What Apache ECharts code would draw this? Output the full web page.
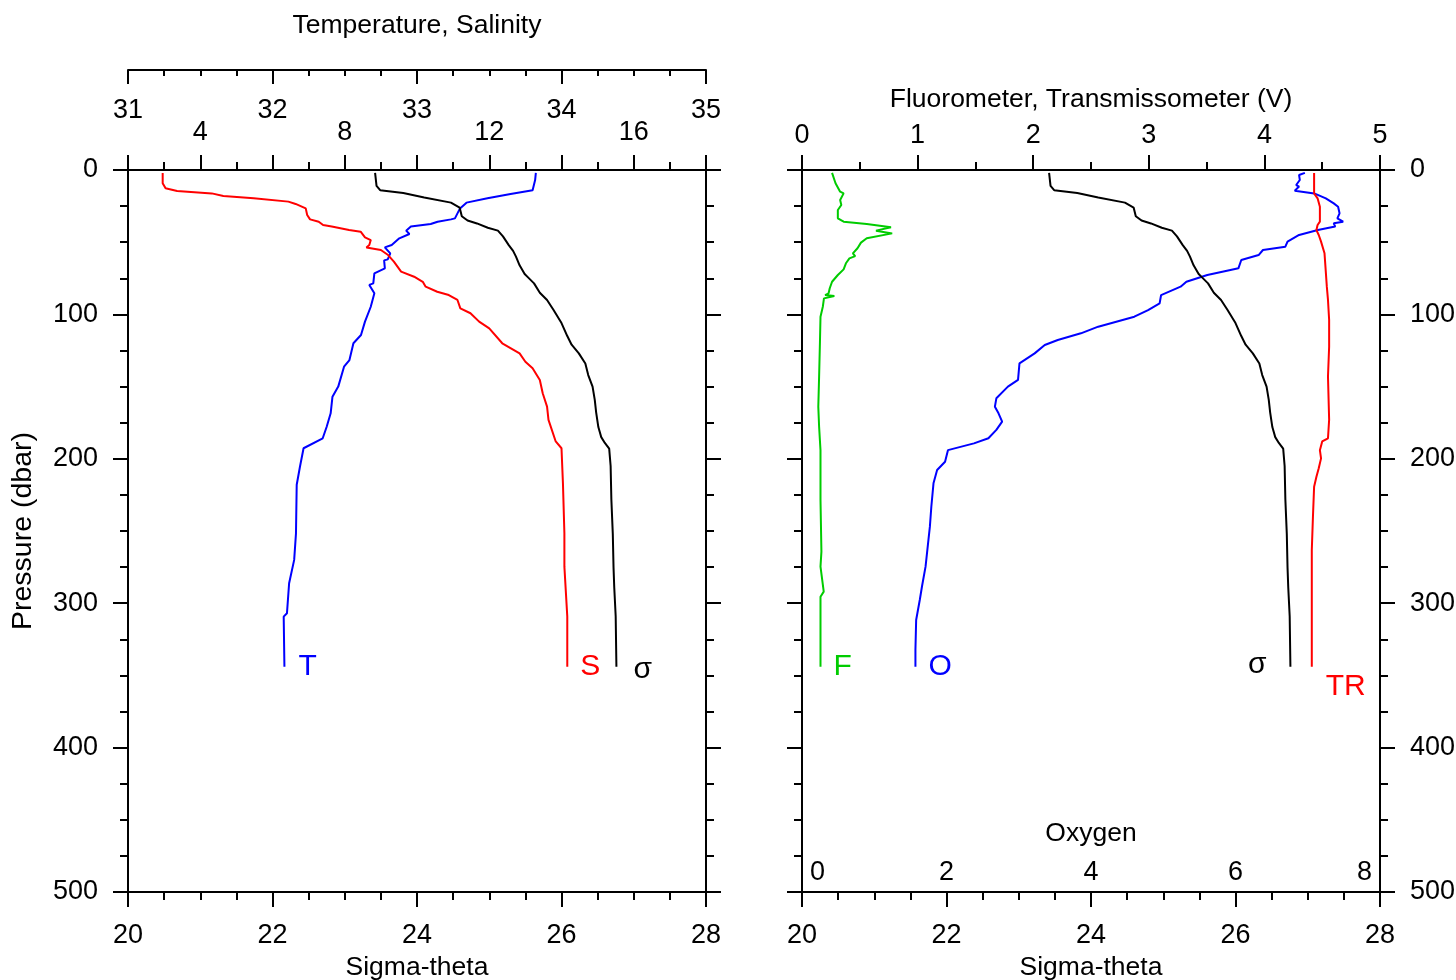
<!DOCTYPE html>
<html>
<head>
    <meta charset="utf-8">
    <title>CTD profiles</title>
    <script src="https://cdn.jsdelivr.net/npm/echarts@6/dist/echarts.min.js"></script>
    <style type="text/css">
        html, body {
            margin: 0;
            height: 100%;
            background: #fff;
        }
    </style>
</head>
<body>
<div id="main" style="width: 1456px;height:980px;"></div>
<script type="text/javascript">
    // profiles: pressure (dbar) and value at that depth
    var sigP = [2, 11, 14, 16, 19, 22.6, 26, 32, 35, 37, 40, 42, 46, 52, 56, 60, 66, 72, 74, 78.5, 85, 90, 97, 106, 115, 121, 127, 134, 142, 150, 159, 168, 178, 185, 189, 193, 205, 228, 252, 275, 289, 309, 344];
    var sigV = [23.42, 23.44, 23.49, 23.81, 24.10, 24.47, 24.59, 24.62, 24.70, 24.83, 24.98, 25.12, 25.19, 25.27, 25.33, 25.37, 25.42, 25.49, 25.53, 25.62, 25.70, 25.80, 25.89, 26.00, 26.08, 26.14, 26.24, 26.33, 26.37, 26.43, 26.46, 26.48, 26.51, 26.55, 26.60, 26.66, 26.68, 26.69, 26.71, 26.72, 26.73, 26.75, 26.76];

    var tempP = [2, 7, 14, 16.6, 19.6, 22.6, 26.6, 33.5, 34.2, 35.8, 37.4, 39.2, 42, 44.3, 47.3, 51.9, 53.6, 57.7, 61.9, 62.6, 68.1, 71.6, 78.5, 79.6, 85.4, 94.7, 105, 114.3, 120, 131.6, 136.2, 150, 157, 168.5, 177.8, 185.8, 192.7, 205.5, 218, 251.6, 270, 286.2, 307, 309.3, 344];
    var tempV = [13.29, 13.27, 13.20, 12.59, 11.95, 11.37, 11.19, 11.05, 10.94, 10.57, 10.38, 9.83, 9.70, 9.79, 9.51, 9.30, 9.11, 9.26, 9.19, 9.09, 9.11, 8.82, 8.79, 8.68, 8.82, 8.72, 8.56, 8.45, 8.24, 8.13, 7.98, 7.82, 7.66, 7.61, 7.50, 7.39, 6.86, 6.76, 6.67, 6.65, 6.60, 6.46, 6.40, 6.31, 6.33];

    var salP = [2, 9.2, 12.7, 14.5, 16.2, 18, 19.6, 21.9, 23.5, 26.6, 31.2, 34.2, 35.8, 38.1, 39.2, 41.6, 42.7, 46.6, 48.5, 51.9, 53.6, 55.4, 58.9, 60, 63.5, 70.4, 73.9, 77.4, 80.8, 84.3, 86.6, 90, 95.8, 99.2, 105, 109.7, 120, 127, 132.8, 137.3, 145.4, 154.6, 163.9, 173, 188, 192.7, 217, 251.6, 274.7, 309.3, 344];
    var salV = [31.24, 31.24, 31.26, 31.34, 31.58, 31.66, 31.87, 32.11, 32.16, 32.23, 32.24, 32.26, 32.32, 32.35, 32.41, 32.53, 32.61, 32.64, 32.68, 32.67, 32.65, 32.75, 32.80, 32.81, 32.84, 32.89, 32.98, 33.04, 33.06, 33.14, 33.22, 33.28, 33.30, 33.37, 33.43, 33.50, 33.59, 33.71, 33.75, 33.80, 33.85, 33.87, 33.90, 33.91, 33.96, 34.00, 34.01, 34.02, 34.02, 34.04, 34.04];

    var fluP = [2, 9.2, 15, 16.2, 20.8, 24.2, 27.7, 33.5, 35.8, 37.4, 39.7, 42, 43.9, 47.3, 50.3, 54.2, 57.7, 59.6, 61.2, 64.6, 68.8, 72.7, 77.4, 81.9, 85.4, 86.6, 87.3, 88.9, 94.7, 101.6, 120, 143, 164, 177.8, 194, 228.5, 264.3, 274.7, 292, 295.5, 320.8, 344];
    var fluV = [0.26, 0.29, 0.33, 0.36, 0.33, 0.34, 0.31, 0.31, 0.36, 0.56, 0.77, 0.64, 0.78, 0.56, 0.51, 0.48, 0.44, 0.46, 0.41, 0.38, 0.36, 0.31, 0.26, 0.24, 0.23, 0.20, 0.28, 0.19, 0.18, 0.16, 0.155, 0.148, 0.141, 0.148, 0.16, 0.16, 0.168, 0.16, 0.188, 0.16, 0.16, 0.16];

    var trP = [2, 16.2, 19.6, 25.4, 35.8, 38.1, 41.6, 45, 49.6, 57.7, 69.2, 80.8, 90, 103.9, 122.4, 143, 173, 185.8, 188, 194, 199.7, 206.6, 212.4, 219.3, 240, 263.2, 286.2, 309.3, 344];
    var trV = [4.43, 4.43, 4.46, 4.48, 4.48, 4.46, 4.45, 4.47, 4.49, 4.52, 4.53, 4.54, 4.55, 4.56, 4.56, 4.55, 4.56, 4.55, 4.50, 4.48, 4.49, 4.47, 4.45, 4.43, 4.42, 4.41, 4.41, 4.41, 4.41];

    var oxyP = [2, 3.5, 6.9, 10.4, 11.5, 14.3, 16.2, 19.6, 23.1, 25.4, 30, 33.5, 35.8, 36.9, 39.2, 41.6, 45, 49.6, 53.1, 55.4, 58.9, 62.3, 68.1, 69.2, 72.7, 77.4, 80.8, 86.6, 92.3, 97, 101.6, 108.5, 113.1, 117.7, 121.2, 127, 133.9, 145.4, 150, 158.1, 163.9, 168.5, 174.3, 180, 185.8, 189.3, 194, 202, 207.8, 217, 233.2, 247, 256.2, 274.7, 288.6, 297.8, 311.6, 332.4, 344];
    var oxyV = [6.96, 6.88, 6.89, 6.84, 6.88, 6.82, 7.09, 7.25, 7.36, 7.42, 7.44, 7.41, 7.49, 7.36, 7.38, 7.14, 6.88, 6.72, 6.69, 6.38, 6.32, 6.08, 6.04, 5.93, 5.61, 5.32, 5.24, 4.97, 4.95, 4.79, 4.60, 4.10, 3.86, 3.54, 3.36, 3.22, 3.01, 2.99, 2.85, 2.69, 2.67, 2.72, 2.77, 2.69, 2.58, 2.38, 2.02, 1.98, 1.87, 1.82, 1.79, 1.77, 1.75, 1.71, 1.66, 1.63, 1.58, 1.57, 1.57];

    var FONT = 'Liberation Sans';
    var LINE = {color: '#000', width: 2};

    var myChart = echarts.init(document.getElementById('main'), null, {renderer: 'canvas'});

    // line through (value, pressure) pairs, with a tag written next to its deepest point
    function profile(xs, ps, xi, yi, color, tag, lab) {
        var d = xs.map(function (v, i) { return [v, ps[i]]; });
        var n = d.length - 1;
        var label = {show: true, formatter: tag, color: color, fontSize: 30, fontFamily: FONT};
        for (var k in lab) label[k] = lab[k];
        d[n] = {value: d[n], symbol: 'circle', symbolSize: 0, label: label};
        return {
            type: 'line', xAxisIndex: xi, yAxisIndex: yi, data: d,
            symbol: 'none', silent: true,
            lineStyle: {color: color, width: 2}, itemStyle: {color: color}
        };
    }

    function axis(o) {
        var a = {
            type: 'value',
            splitLine: {show: false},
            axisLine: {show: true, onZero: false, lineStyle: LINE},
            axisTick: {show: true, length: 15, lineStyle: LINE},
            minorTick: {show: true, length: 8, lineStyle: LINE},
            axisLabel: {color: '#000', fontSize: 27, fontFamily: FONT},
            nameTextStyle: {color: '#000', fontSize: 26.5, fontFamily: FONT},
            nameLocation: 'middle'
        };
        for (var k in o) {
            if (typeof o[k] === 'object' && a[k] && typeof a[k] === 'object') {
                for (var j in o[k]) a[k][j] = o[k][j];
            } else {
                a[k] = o[k];
            }
        }
        return a;
    }

    var option = {
        animation: false,
        backgroundColor: '#fff',
        grid: [
            {left: 128, top: 170, width: 578, height: 722, outerBoundsMode: 'none'},
            {left: 802, top: 170, width: 578, height: 722, outerBoundsMode: 'none'}
        ],
        xAxis: [
            axis({gridIndex: 0, position: 'bottom', min: 20, max: 28, interval: 2,
                minorTick: {splitNumber: 4}, axisLabel: {margin: 30},
                name: 'Sigma-theta', nameGap: 60}),
            axis({gridIndex: 0, position: 'top', min: 2, max: 18, interval: 2,
                minorTick: {splitNumber: 2},
                axisLabel: {margin: 24, formatter: function (v) { return v % 4 === 0 ? v : ''; }}}),
            axis({gridIndex: 0, position: 'top', offset: 100, min: 31, max: 35, interval: 1,
                axisTick: {inside: true, length: 14}, minorTick: {splitNumber: 4, length: 6},
                axisLabel: {inside: true, margin: 27},
                name: 'Temperature, Salinity', nameGap: 31}),
            axis({gridIndex: 1, position: 'bottom', min: 20, max: 28, interval: 2,
                minorTick: {splitNumber: 4}, axisLabel: {margin: 30},
                name: 'Sigma-theta', nameGap: 60}),
            axis({gridIndex: 1, position: 'top', min: 0, max: 5, interval: 1,
                minorTick: {splitNumber: 2}, axisLabel: {margin: 21},
                name: 'Fluorometer, Transmissometer (V)', nameGap: 57}),
            axis({gridIndex: 1, position: 'bottom', min: 0, max: 8, interval: 2,
                axisLine: {show: false}, axisTick: {show: false}, minorTick: {show: false},
                axisLabel: {inside: true, margin: 6, alignMinLabel: 'left', alignMaxLabel: 'right',
                    formatter: function (v) { return v === 0 ? '{a|0}' : (v === 8 ? '{b|8}' : v); },
                    rich: {
                        a: {fontSize: 27, fontFamily: FONT, color: '#000', padding: [0, 0, 0, 8]},
                        b: {fontSize: 27, fontFamily: FONT, color: '#000', padding: [0, 8, 0, 0]}
                    }},
                name: 'Oxygen', nameGap: -72})
        ],
        yAxis: [
            axis({gridIndex: 0, position: 'left', min: 0, max: 500, interval: 100, inverse: true,
                minorTick: {splitNumber: 4}, axisLabel: {margin: 30, padding: [4, 0, 0, 0]},
                name: 'Pressure (dbar)', nameGap: 90,
                nameTextStyle: {fontSize: 28.5}}),
            axis({gridIndex: 0, position: 'right', min: 0, max: 500, interval: 100, inverse: true,
                minorTick: {splitNumber: 4}, axisLabel: {show: false}}),
            axis({gridIndex: 1, position: 'left', min: 0, max: 500, interval: 100, inverse: true,
                minorTick: {splitNumber: 4}, axisLabel: {show: false}}),
            axis({gridIndex: 1, position: 'right', min: 0, max: 500, interval: 100, inverse: true,
                minorTick: {splitNumber: 4}, axisLabel: {margin: 30, padding: [4, 0, 0, 0]}})
        ],
        series: [
            profile(tempV, tempP, 1, 0, '#0000ff', 'T', {position: 'right', distance: 14}),
            profile(salV, salP, 2, 0, '#ff0000', 'S', {position: 'right', distance: 13}),
            profile(sigV, sigP, 0, 0, '#000000', 'σ', {position: 'right', distance: 17, offset: [0, 3]}),
            profile(fluV, fluP, 4, 3, '#00cc00', 'F', {position: 'right', distance: 13}),
            profile(oxyV, oxyP, 5, 3, '#0000ff', 'O', {position: 'right', distance: 13}),
            profile(sigV, sigP, 3, 3, '#000000', 'σ', {position: 'left', distance: 24, offset: [0, -2]}),
            profile(trV, trP, 4, 3, '#ff0000', 'TR', {position: 'right', distance: 14, offset: [0, 20]})
        ]
    };

    myChart.setOption(option);
</script>
</body>
</html>
